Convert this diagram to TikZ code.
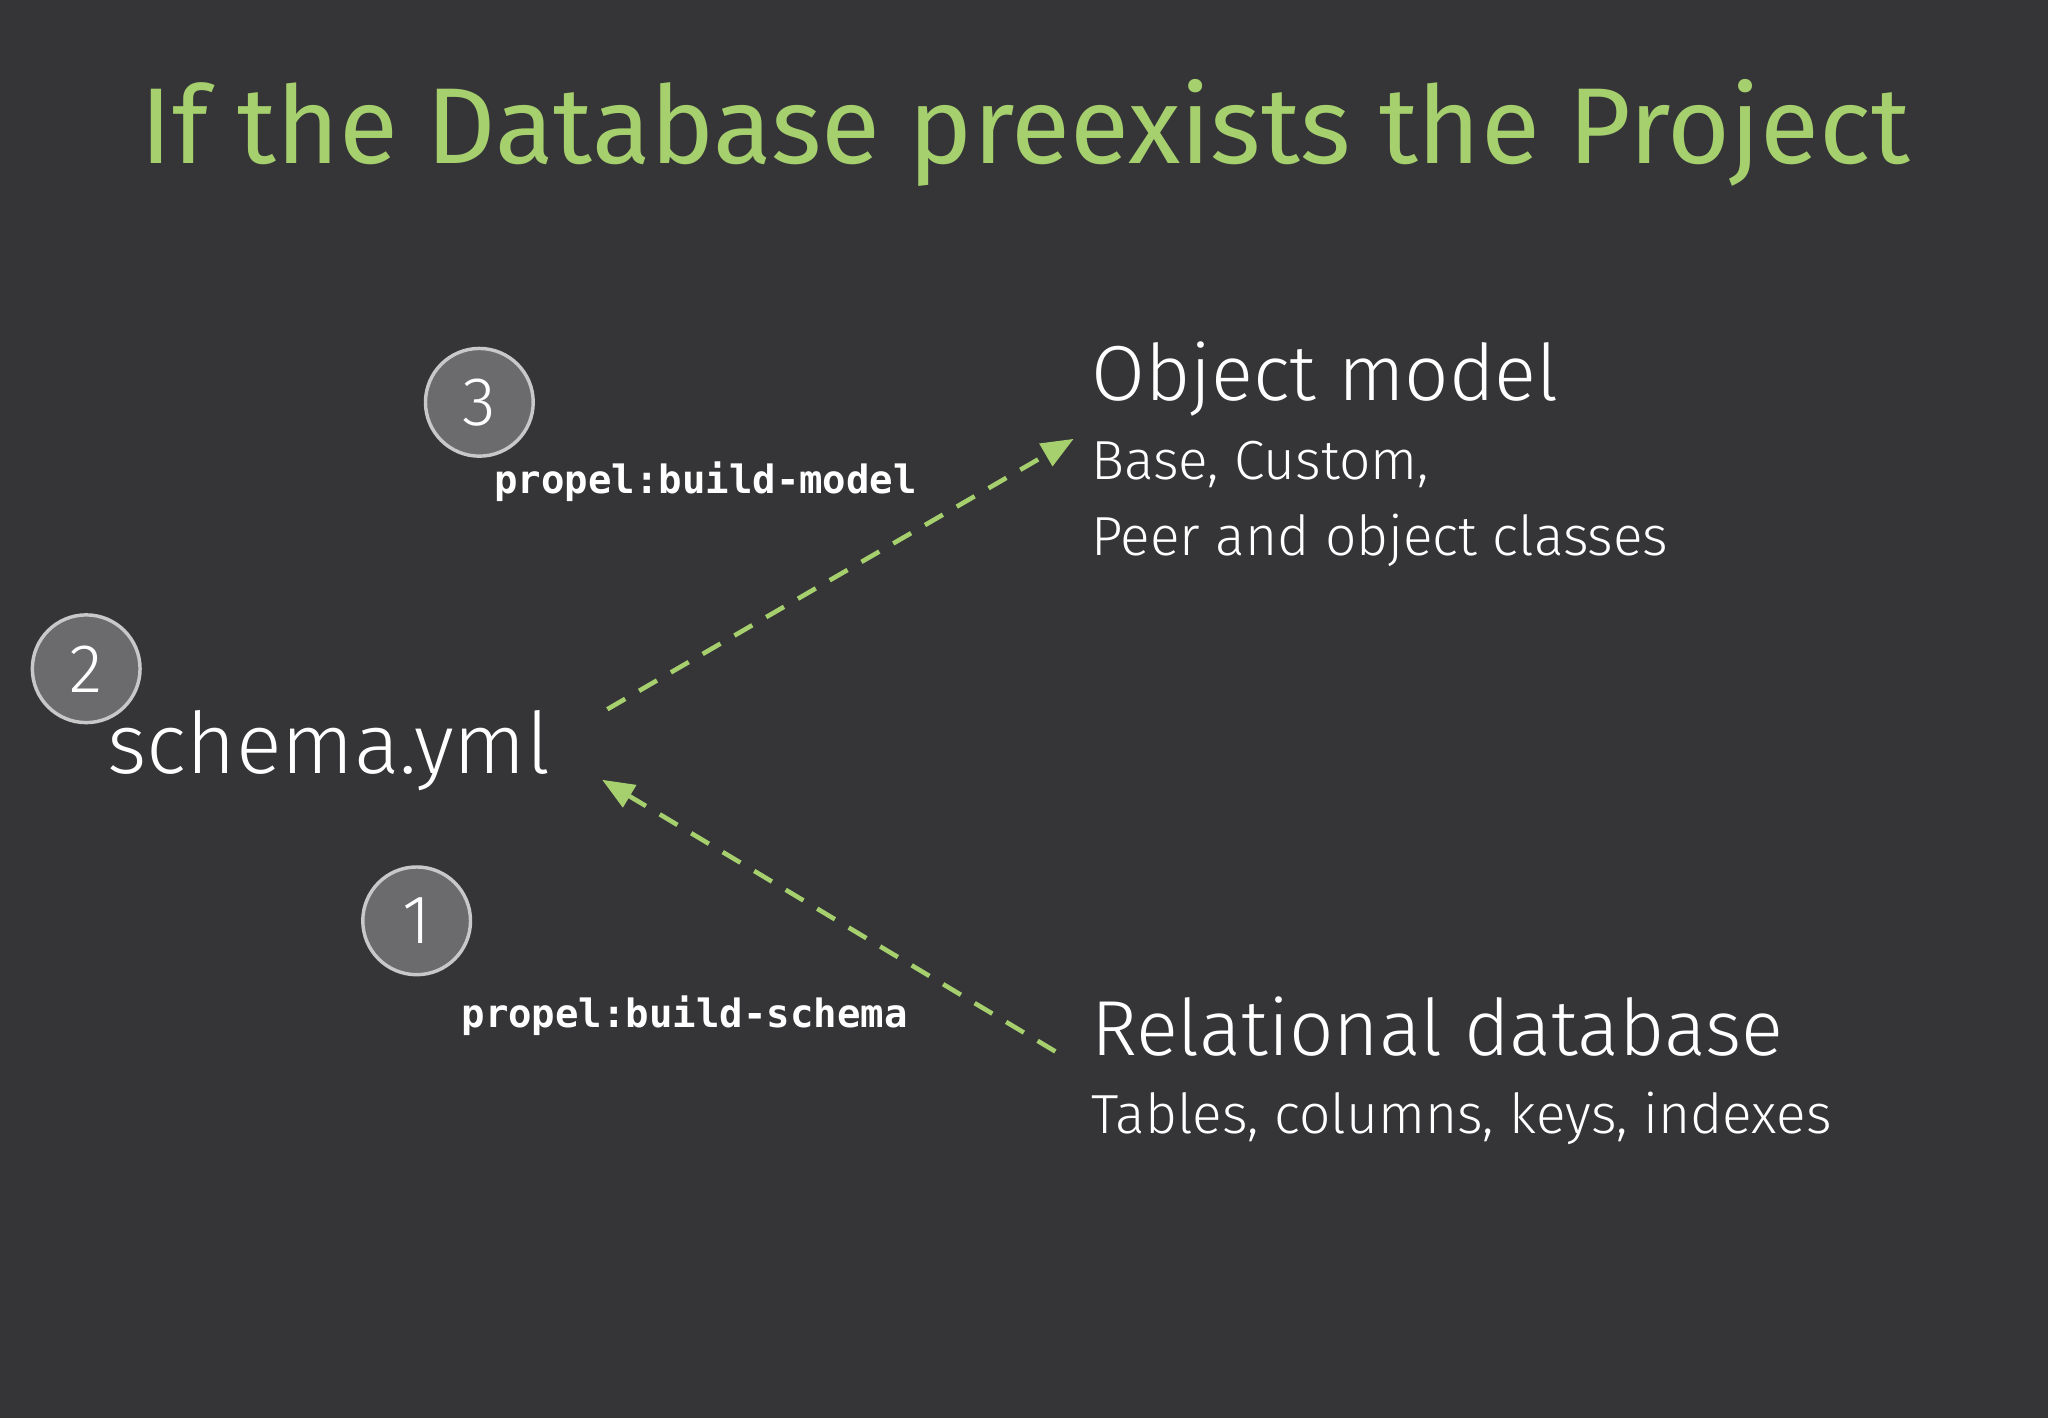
\documentclass[tikz,border=0pt]{standalone}
\usepackage{fontspec}
\setmainfont{Fira Sans Light}
\newfontfamily\titlefont{Fira Sans}
\newfontfamily\codefont{DejaVu Sans Mono}
\usetikzlibrary{arrows.meta}
\definecolor{bg}{HTML}{353537}
\definecolor{grn}{HTML}{A6CF6E}
\definecolor{cfill}{HTML}{6B6B6D}
\definecolor{cline}{HTML}{C8C8C8}
\begin{document}
\begin{tikzpicture}[x=0.02cm,y=-0.02cm,
  num/.style={circle,draw=cline,line width=1.5pt,fill=cfill,minimum size=1.65cm,inner sep=0,text=white,font=\fontsize{30}{30}\selectfont},
  code/.style={text=white,font=\codefont\bfseries\fontsize{17}{17}\selectfont,anchor=base west,inner sep=0},
  txt/.style={text=white,anchor=base west,inner sep=0},
  darr/.style={grn,dashed,dash pattern=on 9pt off 7pt,line width=2pt,-{Triangle[length=14pt,width=11pt]}}]
\fill[bg] (0,0) rectangle (1568,1086);
\node[text=grn,font=\titlefont\fontsize{47}{47}\selectfont,anchor=base] (title) at (785,125) {If the Database preexists the Project};
\node[txt,font=\fontsize{34}{34}\selectfont] (om) at (835,307) {Object model};
\node[txt,font=\fontsize{24}{24}\selectfont] (om2) at (835,367) {Base, Custom,};
\node[txt,font=\fontsize{24}{24}\selectfont] (om3) at (835,425) {Peer and object classes};
\node[txt,font=\fontsize{34}{34}\selectfont] (rd) at (835,808) {Relational database};
\node[txt,font=\fontsize{24}{24}\selectfont] (rd2) at (835,868) {Tables, columns, keys, indexes};
\node[txt,font=\fontsize{37}{37}\selectfont] (sc) at (82,592) {schema.yml};
\node[code] (c1) at (378,378) {propel:build-model};
\node[code] (c2) at (353,787) {propel:build-schema};
\node[num] (n3) at (367,308) {3};
\node[num] (n2) at (66,512) {2};
\node[num] (n1) at (319,705) {1};
\coordinate (a1) at (465,543);
\coordinate (b1) at (822,336);
\coordinate (a2) at (808,805);
\coordinate (b2) at (461,597);
\draw[darr] (a1) -- (b1);
\draw[darr] (a2) -- (b2);
\end{tikzpicture}
\end{document}
